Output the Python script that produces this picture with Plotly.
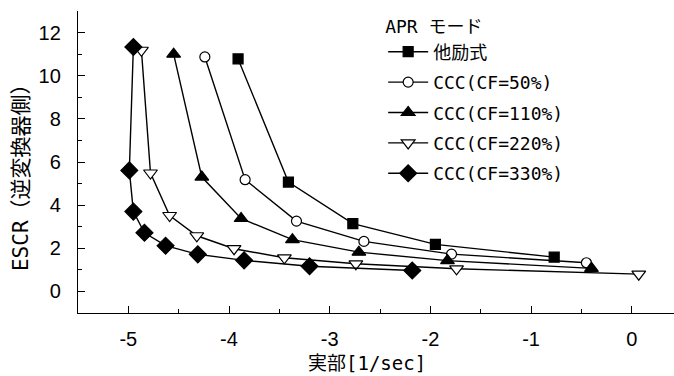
import plotly.graph_objects as go

# ---- data ----
names = ["他励式", "CCC(CF=50%)", "CCC(CF=110%)", "CCC(CF=220%)", "CCC(CF=330%)"]

x_sep = [-3.91, -3.41, -2.77, -1.95, -0.77]
y_sep = [10.78, 5.07, 3.14, 2.18, 1.59]

x_cf50 = [-4.24, -3.84, -3.33, -2.66, -1.79, -0.45]
y_cf50 = [10.87, 5.18, 3.26, 2.32, 1.73, 1.33]

x_cf110 = [-4.55, -4.27, -3.88, -3.37, -2.71, -1.83, -0.40]
y_cf110 = [11.0, 5.3, 3.38, 2.40, 1.82, 1.43, 1.07]

x_cf220 = [-4.87, -4.78, -4.59, -4.32, -3.95, -3.45, -2.74, -1.74, 0.07]
y_cf220 = [11.18, 5.49, 3.52, 2.58, 1.98, 1.56, 1.28, 1.05, 0.80]

x_cf330 = [-4.95, -4.99, -4.95, -4.84, -4.63, -4.31, -3.85, -3.20, -2.18]
y_cf330 = [11.33, 5.61, 3.70, 2.72, 2.12, 1.72, 1.44, 1.17, 0.97]

xs = [x_sep, x_cf50, x_cf110, x_cf220, x_cf330]
ys = [y_sep, y_cf50, y_cf110, y_cf220, y_cf330]

symbols = ["square", "circle", "triangle-up", "triangle-down", "diamond"]
fills = ["black", "white", "black", "white", "black"]
sizes = [10, 10, 12, 12, 13]

x_tick_vals = [-5, -4, -3, -2, -1, 0]
y_tick_vals = [0, 2, 4, 6, 8, 10, 12]

x_title = "実部[1/sec]"
y_title = "ESCR（逆変換器側）"
legend_title = "APR モード"

LAT = "Liberation Sans, Arial, Noto Sans CJK JP"
MONO = "DejaVu Sans Mono, Noto Sans CJK JP"

fig = go.Figure()
for i in range(len(names)):
    fig.add_trace(go.Scatter(
        x=xs[i], y=ys[i], mode="lines+markers", name=names[i],
        legendgroup=f"g{i}",
        line=dict(color="black", width=1.4),
        marker=dict(symbol=symbols[i], size=sizes[i], color=fills[i],
                    line=dict(color="black", width=1.2)),
    ))

fig.update_layout(
    width=674, height=376,
    margin=dict(l=78, r=0, t=11, b=63),
    paper_bgcolor="white", plot_bgcolor="white",
    font=dict(family=LAT, color="black", size=18),
    showlegend=True,
    legend=dict(
        x=0.512, y=1.003, xanchor="left", yanchor="top",
        bgcolor="rgba(0,0,0,0)",
        font=dict(size=18, family=MONO),
        title=dict(text=legend_title, font=dict(size=18, family=MONO)),
        tracegroupgap=4,
        traceorder="grouped",
        itemwidth=40,
    ),
    xaxis=dict(
        range=[-5.5, 0.42], tickvals=x_tick_vals,
        ticktext=[str(v) for v in x_tick_vals],
        ticks="inside", ticklen=7, tickwidth=1, tickcolor="black",
        minor=dict(ticks="inside", ticklen=4, dtick=0.5, tickcolor="black", tick0=0),
        showline=True, linecolor="black", linewidth=1.3,
        showgrid=False, zeroline=False,
        tickfont=dict(size=20, family=LAT),
        ticklabelstandoff=8,
    ),
    yaxis=dict(
        range=[-1, 13], tickvals=y_tick_vals,
        ticktext=[str(v) for v in y_tick_vals],
        ticks="inside", ticklen=7, tickwidth=1, tickcolor="black",
        minor=dict(ticks="inside", ticklen=4, dtick=1, tickcolor="black", tick0=0),
        showline=True, linecolor="black", linewidth=1.3,
        showgrid=False, zeroline=False,
        tickfont=dict(size=20, family=LAT),
        ticklabelstandoff=12,
    ),
    annotations=[
        dict(text=x_title, xref="paper", yref="paper", x=0.485, y=-0.167,
             xanchor="center", yanchor="middle", showarrow=False,
             font=dict(size=19, family=MONO)),
        dict(text=y_title, xref="paper", yref="paper", x=-0.096, y=0.466,
             xanchor="center", yanchor="middle", showarrow=False, textangle=-90,
             font=dict(size=21, family=MONO)),
    ],
)

fig.write_html("out.html")
